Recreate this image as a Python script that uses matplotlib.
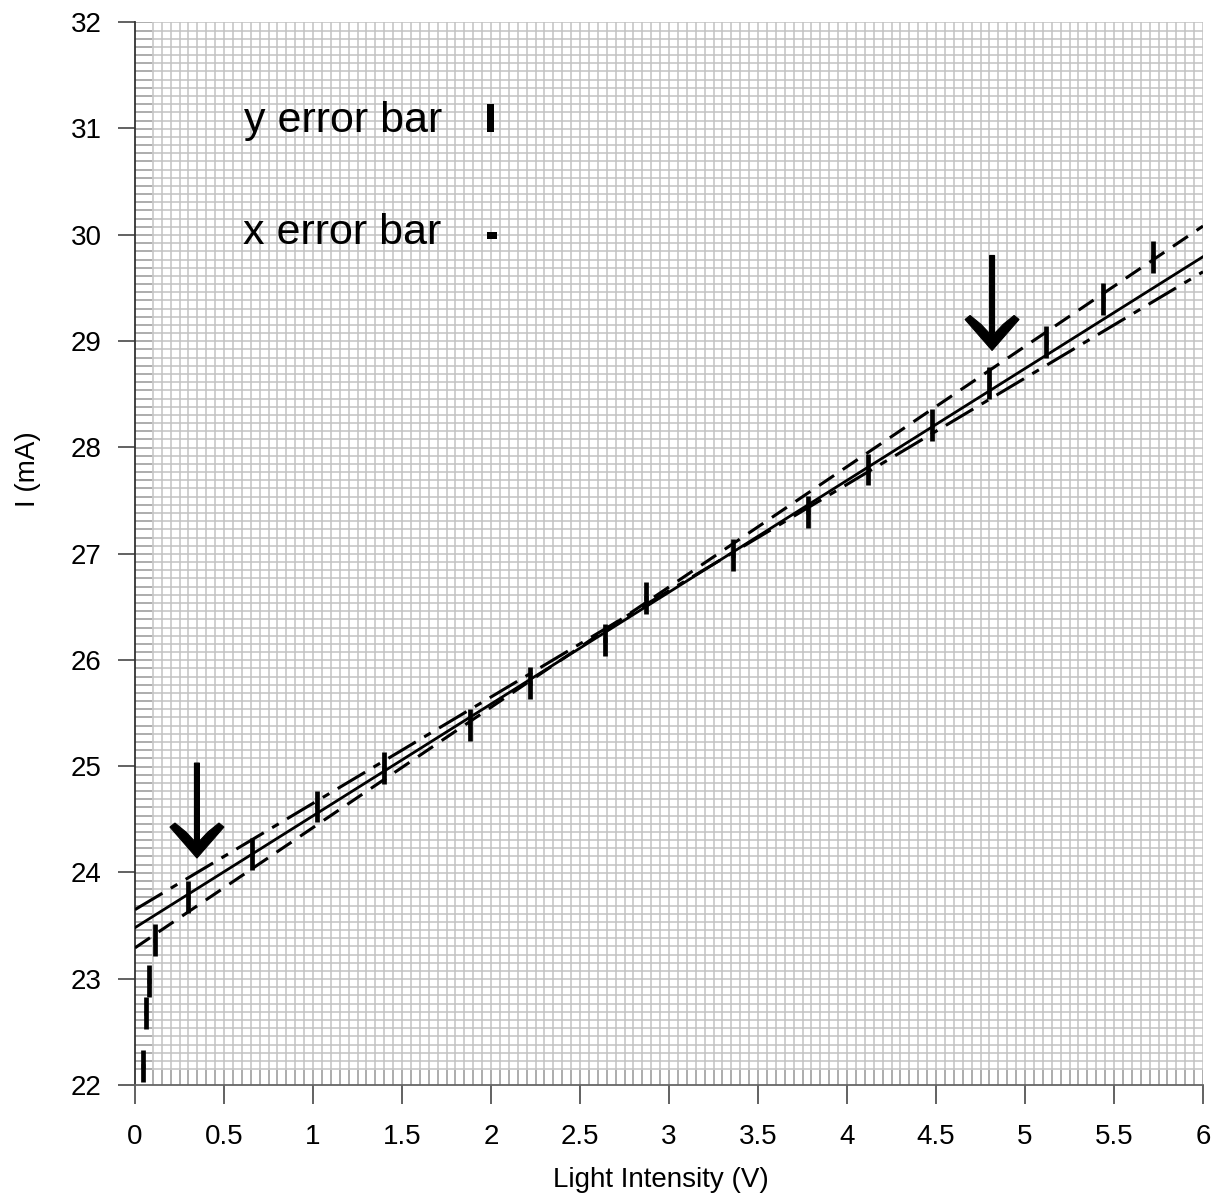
import numpy as np
import matplotlib
matplotlib.use("Agg")
import matplotlib.pyplot as plt
import matplotlib.transforms as mtransforms
from matplotlib.patches import Polygon, Rectangle
from matplotlib.ticker import FuncFormatter

plt.rcParams['font.family'] = ['Liberation Sans', 'DejaVu Sans']
plt.rcParams['lines.scale_dashes'] = False

# ---- data ----
light_v = [0.045, 0.06, 0.08, 0.11, 0.30, 0.66, 1.02, 1.40, 1.88, 2.22,
           2.64, 2.87, 3.36, 3.78, 4.12, 4.48, 4.80, 5.12, 5.44, 5.72]
current_ma = [22.18, 22.68, 22.98, 23.36, 23.77, 24.17, 24.62, 24.98, 25.39, 25.78,
              26.19, 26.58, 26.99, 27.39, 27.79, 28.21, 28.60, 28.99, 29.39, 29.79]
y_err = [0.15] * len(light_v)
x_err = [0.01] * len(light_v)

fit_x = [0.0, 6.0]
best_fit = (23.48, 1.052)   # intercept, slope
max_fit = (23.29, 1.1317)
min_fit = (23.65, 1.000)

arrow_tips = [(0.348, 24.135), (4.815, 28.91)]

x_ticks = [0, 0.5, 1, 1.5, 2, 2.5, 3, 3.5, 4, 4.5, 5, 5.5, 6]
y_ticks = [22, 23, 24, 25, 26, 27, 28, 29, 30, 31, 32]

# ---- figure ----
fig = plt.figure(figsize=(12.24, 12.02), dpi=100)
ax = fig.add_axes([135/1224, 117/1202, 1068/1224, 1063/1202])
ax.set_xlim(0, 6)
ax.set_ylim(22, 32)

# graph-paper background
gx = np.arange(0.10, 6.0001, 0.05)
ax.vlines(gx, 22, 32, colors='#c2c2c2', lw=1.1, zorder=0)
gy = np.arange(22.15, 32.0001, 10/130)
ax.hlines(gy, 0, 6, colors='#c2c2c2', lw=1.1, zorder=0)
ax.hlines(gy, 0, 0.095, colors='#a4a4a4', lw=1.1, zorder=0)
ax.vlines(gx, 22, 22.14, colors='#a4a4a4', lw=1.1, zorder=0)

# fit lines
fx = np.array(fit_x)
ax.plot(fx, best_fit[0] + best_fit[1]*fx, color='k', lw=2.0, zorder=3)
ax.plot(fx, max_fit[0] + max_fit[1]*fx, color='k', lw=2.2,
        dashes=(13, 7.5), zorder=3)
ax.plot(fx, min_fit[0] + min_fit[1]*fx, color='k', lw=2.2,
        dashes=(23, 7, 5.5, 7), zorder=3)

# error bars
ax.errorbar(light_v, current_ma, yerr=y_err, xerr=x_err, fmt='none',
            ecolor='k', elinewidth=3.4, capsize=0, zorder=4)

# arrows (shape in pixels, relative to tip)
arrow_shape = np.array([(0, 0), (-27, 31), (-22, 35), (-11, 26), (-2.5, 17),
                        (-2.5, 95), (2.5, 95), (2.5, 17), (11, 26), (22, 35),
                        (27, 31)]) / 100.0
for (xt, yt) in arrow_tips:
    tr = fig.dpi_scale_trans + mtransforms.ScaledTranslation(xt, yt, ax.transData)
    ax.add_patch(Polygon(arrow_shape, closed=True, facecolor='k', edgecolor='k',
                         lw=0.8, transform=tr, zorder=5, clip_on=False))

# legend-like annotations
ax.text(0.102, 0.8965, 'y error bar', transform=ax.transAxes, fontsize=31,
        ha='left', va='baseline', zorder=6)
ax.text(0.101, 0.791, 'x error bar', transform=ax.transAxes, fontsize=31,
        ha='left', va='baseline', zorder=6)
ax.add_patch(Rectangle((0.3296, 0.8965), 0.0065, 0.0264, transform=ax.transAxes,
                       facecolor='k', edgecolor='none', zorder=6))
ax.add_patch(Rectangle((0.3296, 0.7959), 0.0094, 0.0066, transform=ax.transAxes,
                       facecolor='k', edgecolor='none', zorder=6))

# axes styling
for s in ['top', 'right']:
    ax.spines[s].set_visible(False)
ax.spines['left'].set_color('#333333')
ax.spines['bottom'].set_color('#666666')
ax.spines['left'].set_linewidth(1.3)
ax.spines['bottom'].set_linewidth(1.3)

ax.set_xticks(x_ticks)
ax.set_yticks(y_ticks)
ax.xaxis.set_major_formatter(FuncFormatter(lambda v, p: f'{v:g}'))
ax.yaxis.set_major_formatter(FuncFormatter(lambda v, p: f'{v:g}'))
ax.tick_params(axis='x', direction='out', length=14, width=1.3, color='#555555',
               labelsize=20, pad=14)
ax.tick_params(axis='y', direction='out', length=12, width=1.3, color='#555555',
               labelsize=20, pad=12)

ax.set_xlabel('Light Intensity (V)', fontsize=20)
ax.set_ylabel('I (mA)', fontsize=20)
ax.xaxis.set_label_coords(0.4925, -0.077)
ax.yaxis.set_label_coords(-0.088, 0.579)

fig.savefig('out.png', dpi=100)
